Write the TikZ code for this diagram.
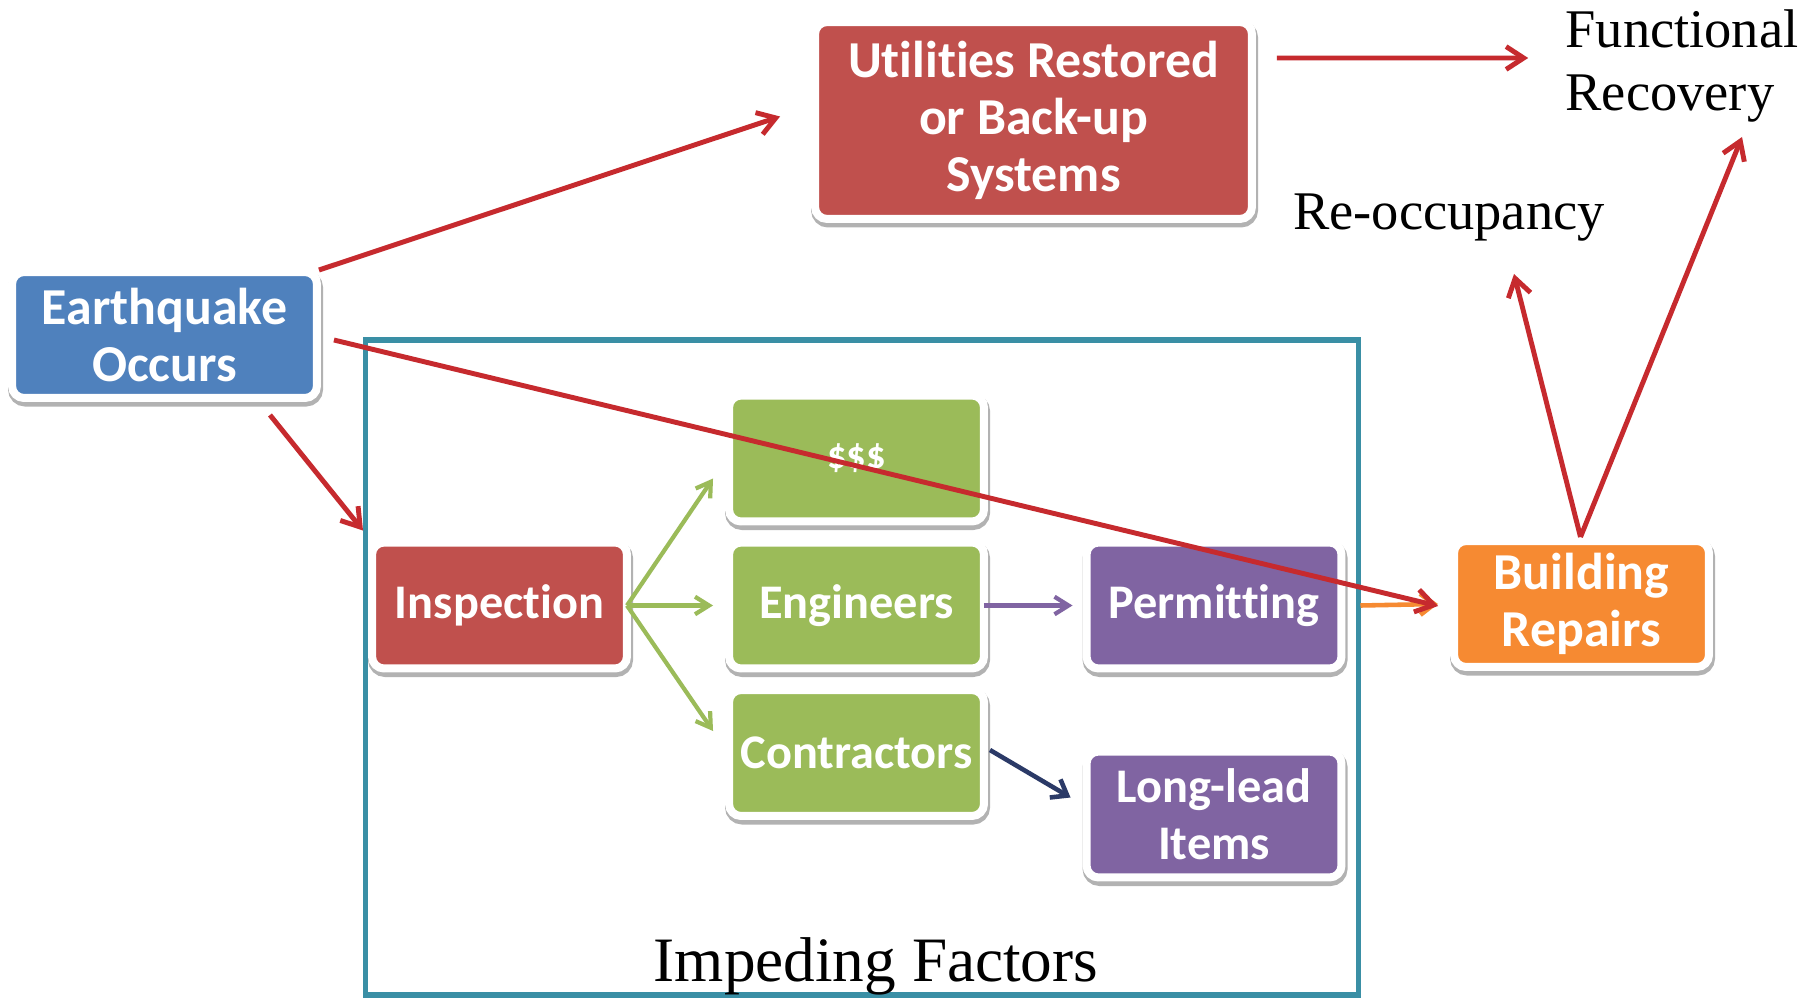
\documentclass[tikz,border=0pt]{standalone}
\usepackage{fontspec}
\setmainfont{Liberation Serif}
\newfontfamily\boxfont{Carlito}[Ligatures=NoCommon]
\usetikzlibrary{arrows.meta,shadows}
\definecolor{boxred}{HTML}{C0504D}
\definecolor{boxblue}{HTML}{4F81BD}
\definecolor{boxgreen}{HTML}{9BBB59}
\definecolor{boxpurple}{HTML}{8064A2}
\definecolor{boxorange}{HTML}{F68A32}
\definecolor{arrred}{HTML}{C62A2E}
\definecolor{frameteal}{HTML}{3A8FA5}
\definecolor{arrnavy}{HTML}{2B3A67}
\begin{document}
\begin{tikzpicture}[x=0.02cm,y=-0.02cm,
  factor/.style={draw=white, line width=0.16cm, rounded corners=0.24cm,
    minimum width=5.1cm, minimum height=2.52cm, inner sep=0pt, outer sep=0pt, text=white,
    font=\boxfont\bfseries\fontsize{27.5}{32.5}\selectfont, align=center,
    drop shadow={shadow xshift=0.6pt, shadow yshift=-2pt, opacity=0.3,
      draw=black, line width=0.2cm}},
  bigfont/.style={font=\boxfont\bfseries\fontsize{29.5}{32.5}\selectfont},
  serif/.style={font=\fontsize{31}{36}\selectfont, inner sep=0pt, align=left},
  redarr/.style={draw=arrred, line width=2.8pt, -{Straight Barb[length=10pt,width=13pt]}},
  greenarr/.style={draw=boxgreen, line width=2.4pt, -{Straight Barb[length=8pt,width=10pt]}},
  purplearr/.style={draw=boxpurple, line width=2.4pt, -{Straight Barb[length=8pt,width=10pt]}},
  navyarr/.style={draw=arrnavy, line width=2.6pt, -{Straight Barb[length=8pt,width=12pt]}},
  orangearr/.style={draw=boxorange, line width=2.6pt, -{Straight Barb[length=8pt,width=12pt]}}
]
\useasboundingbox[fill=white] (0,0) rectangle (1819,1000);

% frame of impeding factors
\draw[frameteal, line width=3pt] (365.5,340) rectangle (1358.5,995);
\node[font=\fontsize{36}{40}\selectfont, inner sep=0pt] (imp) at (876,966) {Impeding Factors};

% nodes
\node[factor, bigfont, fill=boxblue, minimum width=6.1cm] (eq) at (164.5,335) {Earthquake\\Occurs};
\node[factor, bigfont, fill=boxred, minimum width=8.74cm, minimum height=3.94cm] (util) at (1033.5,120.5) {Utilities Restored\\or Back-up\\Systems};
\node[factor, fill=boxred] (insp) at (499.5,605.5) {Inspection};
\node[factor, fill=boxgreen, font=\boxfont\bfseries\fontsize{22}{26}\selectfont] (money) at (856.5,458.5) {\$\$\$};
\node[factor, fill=boxgreen] (eng) at (856.5,605.5) {Engineers};
\node[factor, fill=boxgreen] (contr) at (856.5,753) {Contractors};
\node[factor, fill=boxpurple] (perm) at (1214,605.5) {Permitting};
\node[factor, fill=boxpurple] (long) at (1214,814.5) {Long-lead\\Items};
\node[factor, bigfont, fill=boxorange] (build) at (1581.5,604) {Building\\Repairs};

\node[serif] (func) at (1682,66) {Functional\\Recovery};
\node[serif] (reocc) at (1449,218) {Re-occupancy};

% connectors
\draw[greenarr] (insp.east) -- ([shift={(-16,20)}]money.west);
\draw[greenarr] (insp.east) -- ([shift={(-16,0)}]eng.west);
\draw[greenarr] (insp.east) -- ([shift={(-16,-22)}]contr.west);
\draw[purplearr] (eng.east) -- ([shift={(-14,0)}]perm.west);
\draw[navyarr] ([shift={(6,-3)}]contr.east) -- ([shift={(-16,-17)}]long.west);
\draw[orangearr] ([shift={(19,0)}]perm.east) -- ([shift={(-16,0)}]build.west);

\draw[redarr] ([shift={(2,-2)}]eq.north east) -- ([shift={(-35,-4)}]util.west);
\draw[redarr] ([shift={(17,5)}]eq.east) -- ([shift={(-16,2)}]build.west);
\draw[redarr] ([shift={(-47,17)}]eq.south east) -- ([shift={(-9,-12)}]insp.north west);
\draw[redarr] ([shift={(25,36)}]util.north east) -- ([shift={(-37,-8)}]func.west);
\draw[redarr] ([shift={(-1,-4)}]build.north) -- ([shift={(65,56)}]reocc.center);
\draw[redarr] ([shift={(-1,-4)}]build.north) -- ([shift={(60,71)}]func.center);
\end{tikzpicture}
\end{document}
